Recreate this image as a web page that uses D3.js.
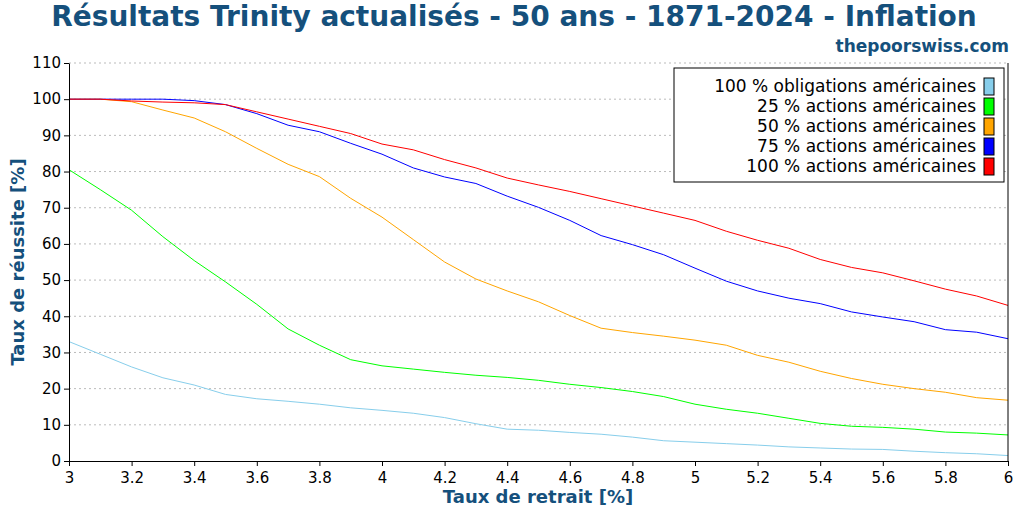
<!DOCTYPE html>
<html>
<head>
<meta charset="utf-8">
<script src="https://cdn.jsdelivr.net/npm/d3@7"></script>
<style>
  body { margin: 0; background: #fff; }
  text { font-family: "DejaVu Sans", sans-serif; }
</style>
</head>
<body>
<svg id="chart" width="1024" height="512"></svg>
<script>
// withdrawal rates 3.0 .. 6.0
const rates = [3.0,3.1,3.2,3.3,3.4,3.5,3.6,3.7,3.8,3.9,4.0,4.1,4.2,4.3,4.4,4.5,4.6,4.7,4.8,4.9,5.0,5.1,5.2,5.3,5.4,5.5,5.6,5.7,5.8,5.9,6.0];
const bonds100 = [33,29.5,26,23,21,18.4,17.2,16.5,15.7,14.7,14,13.2,12,10.3,8.8,8.5,7.9,7.4,6.6,5.6,5.2,4.8,4.4,3.9,3.6,3.3,3.2,2.7,2.3,2,1.5];
const stocks25 = [80.5,75,69.3,62,55.4,49.5,43.3,36.5,32,28,26.3,25.4,24.5,23.7,23.1,22.3,21.2,20.3,19.2,17.8,15.7,14.3,13.2,11.8,10.4,9.6,9.3,8.8,8,7.7,7.2];
const stocks50 = [100,100,99.3,97,94.8,91,86.4,82,78.6,72.6,67.4,61.2,55,50.3,47,44,40.2,36.7,35.5,34.5,33.4,32,29.2,27.3,24.8,22.8,21.2,20,19,17.5,16.8];
const stocks75 = [100,100,100,100,99.6,98.5,96,92.8,91,87.8,84.8,81,78.5,76.7,73.2,70.1,66.5,62.3,59.8,57,53.3,49.7,47,45,43.5,41.2,39.8,38.5,36.3,35.6,33.8];
const stocks100 = [100,100,99.5,99.2,99,98.5,96.5,94.5,92.5,90.5,87.6,86,83.3,81,78.2,76.3,74.5,72.5,70.5,68.5,66.5,63.5,61,58.8,55.7,53.5,52,49.8,47.5,45.6,43];
const seriesNames = ["100 % obligations américaines","25 % actions américaines","50 % actions américaines","75 % actions américaines","100 % actions américaines"];
const seriesColors = ["#87ceeb","#00ff00","#ffa500","#0000ff","#ff0000"];
const xTicks = [3,3.2,3.4,3.6,3.8,4,4.2,4.4,4.6,4.8,5,5.2,5.4,5.6,5.8,6];
const yTicks = [0,10,20,30,40,50,60,70,80,90,100,110];

const series = [bonds100, stocks25, stocks50, stocks75, stocks100];
const svg = d3.select("#chart");
const m = {left: 69, right: 1008, top: 63, bottom: 461};
const titleColor = "#15507c";

const x = d3.scaleLinear().domain([3, 6]).range([m.left, m.right]);
const y = d3.scaleLinear().domain([0, 110]).range([m.bottom, m.top]);

// gridlines
svg.append("g").selectAll("line").data(yTicks.slice(1)).join("line")
    .attr("x1", m.left).attr("x2", m.right)
    .attr("y1", d => y(d)).attr("y2", d => y(d))
    .attr("stroke", "#bbb").attr("stroke-dasharray", "2,3");

// lines
const line = d3.line().x((d, i) => x(rates[i])).y(d => y(d));
series.forEach((s, k) => {
    svg.append("path").datum(s)
        .attr("d", line).attr("fill", "none")
        .attr("stroke", seriesColors[k]).attr("stroke-width", 1);
});

// axes
const xAxis = svg.append("g").attr("transform", `translate(0,${m.bottom})`)
    .call(d3.axisBottom(x).tickValues(xTicks).tickSize(5).tickSizeOuter(0).tickFormat(d3.format("")));
const yAxis = svg.append("g").attr("transform", `translate(${m.left},0)`)
    .call(d3.axisLeft(y).tickValues(yTicks).tickSize(5).tickSizeOuter(0));
svg.append("line").attr("x1", m.right).attr("x2", m.right)
    .attr("y1", m.top).attr("y2", m.bottom).attr("stroke", "#000");
[xAxis, yAxis].forEach(a => {
    a.selectAll("text").attr("font-size", 15).attr("fill", "#000")
        .style("font-family", "DejaVu Sans");
    a.selectAll("path, line").attr("stroke", "#000");
});
xAxis.selectAll("text").attr("dy", "0.95em");

// titles
svg.append("text").attr("x", 514).attr("y", 26).attr("text-anchor", "middle")
    .attr("font-size", 28).attr("font-weight", "bold").attr("fill", titleColor)
    .text("Résultats Trinity actualisés - 50 ans - 1871-2024 - Inflation");
svg.append("text").attr("x", 1009).attr("y", 52).attr("text-anchor", "end")
    .attr("font-size", 17).attr("font-weight", "bold").attr("fill", titleColor)
    .text("thepoorswiss.com");
svg.append("text").attr("x", 538).attr("y", 503).attr("text-anchor", "middle")
    .attr("font-size", 18).attr("font-weight", "bold").attr("fill", titleColor)
    .text("Taux de retrait [%]");
svg.append("text").attr("transform", "translate(24,262) rotate(-90)").attr("text-anchor", "middle")
    .attr("font-size", 18).attr("font-weight", "bold").attr("fill", titleColor)
    .text("Taux de réussite [%]");

// legend
const lg = svg.append("g");
lg.append("rect").attr("x", 674).attr("y", 68).attr("width", 330).attr("height", 114)
    .attr("fill", "#fff").attr("stroke", "#000");
seriesNames.forEach((n, i) => {
    const yy = 86 + i * 20;
    lg.append("text").attr("x", 976).attr("y", yy).attr("dy", "0.35em")
        .attr("text-anchor", "end").attr("font-size", 17).text(n);
    lg.append("rect").attr("x", 984).attr("y", yy - 8).attr("width", 10).attr("height", 17)
        .attr("fill", seriesColors[i]).attr("stroke", "#000");
});
</script>
</body>
</html>
